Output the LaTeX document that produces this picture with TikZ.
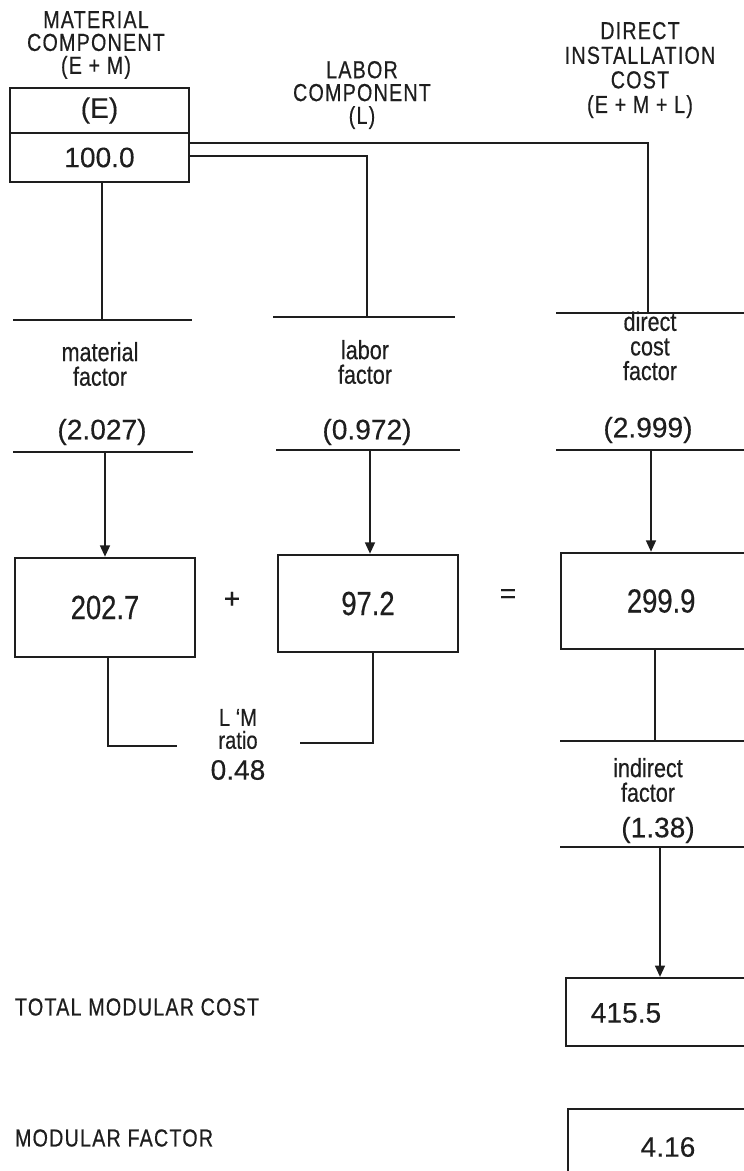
\documentclass[tikz,border=0pt]{standalone}
\usepackage{fontspec}
\setmainfont{Liberation Sans}[FakeBold=0.3]
\newfontfamily\condfont{Liberation Sans}[FakeStretch=0.82,FakeBold=0.4]
\newfontfamily\headfont{Liberation Sans}[FakeStretch=0.8,LetterSpace=5,FakeBold=0.5]
\usetikzlibrary{positioning,arrows.meta,calc}
\definecolor{ink}{HTML}{1E1E1E}

\begin{document}
\begin{tikzpicture}[x=0.02cm,y=-0.02cm,line width=1.35pt,color=ink,
  cbox/.style={draw,rectangle,inner sep=0pt,font=\fontsize{16}{18}\selectfont},
  boxnum/.style={font=\condfont\fontsize{19}{20}\selectfont},
  head/.style={align=center,font=\headfont\fontsize{14}{13}\selectfont},
  lbl/.style={align=center,font=\condfont\fontsize{15}{14}\selectfont},
  val/.style={font=\fontsize{16}{18}\selectfont},
  flow/.style={-{Triangle[length=6.5pt,width=5.5pt]}}]
  \useasboundingbox (0,0) rectangle (744,1171);
  % headings
  \node[head] (mhead) at (96,45) {MATERIAL\\COMPONENT\\(E + M)};
  \node[head] (lhead) at (362,95) {LABOR\\COMPONENT\\(L)};
  \node[head,font=\headfont\fontsize{14}{14}\selectfont] (dhead) at (640,70) {DIRECT\\INSTALLATION\\COST\\(E + M + L)};
  % material component box
  \node[cbox,minimum width=3.58cm,minimum height=0.9cm] (ebox) at (99.5,110.5) {(E)};
  \node[cbox,minimum width=3.58cm,minimum height=0.98cm] (mbox) at (99.5,157.5) {100.0};
  \coordinate (dknee) at (648,143);
  \coordinate (lknee) at (367,156);
  \coordinate (mtop) at (102,320);
  \coordinate (ltop) at (367,317);
  \coordinate (dtop) at (648,313);
  \draw (mbox.east |- dknee) -- (dknee) -- (dtop);
  \draw (mbox.east |- lknee) -- (lknee) -- (ltop);
  \draw (mbox.south -| mtop) -- (mtop);
  \draw ($(mtop)+(-89,0)$) -- ($(mtop)+(90,0)$);
  \draw ($(ltop)+(-94,0)$) -- ($(ltop)+(88,0)$);
  \draw ($(dtop)+(-92,0)$) -- ($(dtop)+(100,0)$);
  % factors
  \node[lbl] (mlbl) at (100,364) {material\\factor};
  \node[lbl] (llbl) at (365,362) {labor\\factor};
  \node[lbl] (dlbl) at (650,346) {direct\\cost\\factor};
  \node[val] (mfac) at (102,432) {(2.027)};
  \node[val] (lfac) at (367,432) {(0.972)};
  \node[val] (dfac) at (648,430) {(2.999)};
  \coordinate (mbot) at (105,452);
  \coordinate (lbot) at (370,450);
  \coordinate (dbot) at (651,450);
  \draw ($(mbot)+(-92,0)$) -- ($(mbot)+(88,0)$);
  \draw ($(lbot)+(-94,0)$) -- ($(lbot)+(90,0)$);
  \draw ($(dbot)+(-95,0)$) -- ($(dbot)+(100,0)$);
  % results
  \node[cbox,boxnum,minimum width=3.6cm,minimum height=1.98cm] (mres) at (105,607.5) {202.7};
  \node[cbox,boxnum,minimum width=3.6cm,minimum height=1.94cm] (lres) at (368,603.5) {97.2};
  \node[cbox,boxnum,minimum width=4cm,minimum height=1.92cm,anchor=west] (dres) at (560,601) {299.9};
  \node[val] (plus) at (232,600) {+};
  \node[val] (eq) at (508,596) {=};
  \draw[flow] (mbot) -- (mres.north -| mbot);
  \draw[flow] (lbot) -- (lres.north -| lbot);
  \draw[flow] (dbot) -- (dres.north -| dbot);
  % L/M ratio
  \node[lbl,font=\condfont\fontsize{14}{13}\selectfont] (lm) at (238,729) {L ‘M\\ratio};
  \node[val] (ratio) at (238,770) {0.48};
  \coordinate (mknee) at (108,746);
  \coordinate (lknee2) at (373,743);
  \coordinate (lmL) at (177,746);
  \coordinate (lmR) at (300,743);
  \draw (mres.south -| mknee) -- (mknee) -- (lmL);
  \draw (lres.south -| lknee2) -- (lknee2) -- (lmR);
  % indirect
  \coordinate (itop) at (655,741);
  \draw (dres.south -| itop) -- (itop);
  \draw ($(itop)+(-95,0)$) -- ($(itop)+(95,0)$);
  \node[lbl] (ilbl) at (648,780) {indirect\\factor};
  \node[val] (ifac) at (658,830) {(1.38)};
  \coordinate (ibot) at (660,847);
  \draw ($(ibot)+(-100,0)$) -- ($(ibot)+(90,0)$);
  \node[cbox,minimum width=4.7cm,minimum height=1.36cm,anchor=north west] (tot) at (565,977) {};
  \node[val] (totv) at (626,1013) {415.5};
  \draw[flow] (ibot) -- (tot.north -| ibot);
  \node[cbox,minimum width=4.7cm,minimum height=1.28cm,anchor=north west] (modf) at (567,1108) {};
  \node[val] (modv) at (668,1147) {4.16};
  % totals
  \node[head,anchor=west] (totl) at (8,1007) {TOTAL MODULAR COST};
  \node[head,anchor=west] (modl) at (8,1138) {MODULAR FACTOR};
\end{tikzpicture}
\end{document}
